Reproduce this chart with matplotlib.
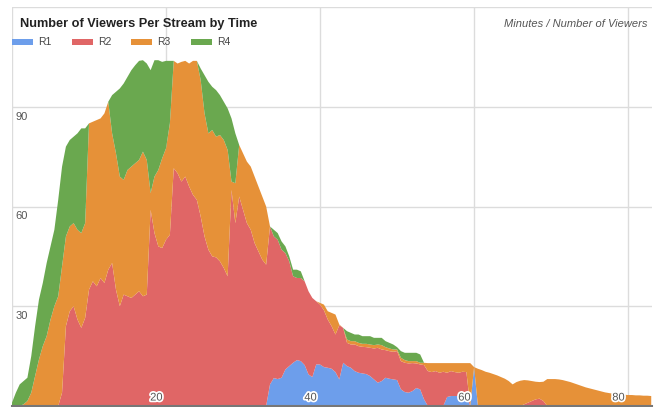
import matplotlib
matplotlib.use('Agg')
import matplotlib.pyplot as plt
import matplotlib.patheffects as pe
from matplotlib.patches import Rectangle
import numpy as np

plt.rcParams['font.family'] = ['Liberation Sans', 'DejaVu Sans']

# half-minute samples, 0 .. 83 min
minutes = np.arange(0, 83.5, 0.5)
series_names = ['R1', 'R2', 'R3', 'R4']
colors = ['#6d9eeb', '#e06666', '#e69138', '#6aa84f']
x_ticks = [20, 40, 60, 80]
y_ticks = [30, 60, 90]

# viewers per stream (one row = 5 minutes)
r1 = ([0] * 60 +
      [0, 0, 0, 0, 0, 0, 0, 6.5, 8.4, 8.1] +
      [8.5, 11, 12, 13, 13.8, 13.5, 12.3, 9.5, 8.7, 12.5] +
      [12.5, 11.7, 11.5, 11.2, 10.2, 8, 13, 12, 11.5, 10.5] +
      [10, 9.8, 9.6, 9, 8, 7, 7.5, 8.5, 8.2, 8] +
      [7.8, 5, 4.2, 4, 4.5, 5.4, 5, 2, 0, 0] +
      [0, 0, 0, 2.7, 3, 3, 3, 3, 3, 0] +
      [11.7] + [0] * 46)

r2 = ([0] * 10 +
      [0, 0, 0, 4, 24, 28.5, 30, 26, 23.5, 26.5] +
      [35, 37.5, 36, 38.5, 37, 41, 43, 35, 30, 33.5] +
      [33, 32.5, 33.5, 34.5, 33, 33.5, 59, 52, 48, 47.5] +
      [50, 51.5, 71.5, 70, 67.5, 69, 66, 63.5, 62, 57] +
      [51, 47, 45, 44.7, 43.5, 41.5, 39, 65, 55, 63] +
      [59, 55, 53, 49, 46.5, 44, 42.5, 47.5, 42.6, 41.9] +
      [38.5, 35, 31.5, 26, 24.7, 25, 25.2, 25, 23.8, 19] +
      [18, 17.1, 14.5, 12.8, 11.3, 16.3, 10.5, 7, 7, 8] +
      [8, 8, 8.1, 8.5, 9.3, 10.5, 9.5, 8.3, 8.3, 8.3] +
      [8.7, 8.5, 8.8, 8.8, 8.4, 7.4, 7.5, 10.3, 10.5, 10.2] +
      [10.5, 10, 10.3, 7.3, 7.5, 7.2, 7, 7.3, 7.2, 0] +
      [0] * 10 +
      [0, 0, 0, 0.5, 1.0, 1.5, 2.0, 2.2, 1.5, 0] +
      [0] * 27)

r3 = ([0, 0, 0, 0.5, 1.5, 4, 9, 14, 18, 21] +
      [26, 30, 33, 38, 27, 25.5, 25, 27, 28.5, 28.5] +
      [50, 48, 50, 48, 51, 50.5, 39, 41, 39, 34.5] +
      [38, 39.5, 39.5, 39.5, 43.5, 40.5, 5, 17, 23, 27] +
      [27.5, 33.5, 32.3, 33, 36, 34.8, 37, 40.3, 41.8, 41] +
      [37, 35, 38, 36.3, 38, 38.5, 38, 2.5, 12, 15.5] +
      [17, 18.5, 19, 20, 19.5, 19, 17.5, 0, 0, 0] +
      [0] * 10 +
      [0.5, 1.7, 2.5, 4, 6, 0.2, 0, 1, 1, 1] +
      [1, 0.9, 1, 1, 1, 1, 1.3, 0.9, 0.8, 0.7] +
      [0.5, 1, 0.8, 0.7, 0.6, 0.7, 0.5, 0.7, 2.4, 2.7] +
      [2.4, 2.9, 2.6, 2.9, 2.4, 2.7, 2.9, 2.6, 2.7, 12.9] +
      [0, 11.2, 10.8, 10.3, 10.0, 9.6, 9.2, 8.7, 8.2, 7.5] +
      [6.5, 7.2, 7.6, 7.3, 6.7, 6.0, 5.3, 5.0, 5.8, 8.1] +
      [8.1, 8.1, 8.0, 7.8, 7.5, 7.2, 6.8, 6.4, 6.0, 5.6] +
      [5.3, 5.0, 4.7, 4.4, 4.1, 3.9, 3.7, 3.6, 3.5, 3.4] +
      [3.3, 3.3, 3.2, 3.2, 3.1, 3.1, 3.0])

r4 = ([1, 4, 6.5, 7, 7, 11, 15, 18, 19, 22] +
      [22, 23, 29, 30, 27, 26, 26, 29, 31.5, 28.5] +
      [0, 0, 0, 0, 0, 0, 11.5, 18.5, 26.5, 29] +
      [28, 29, 29.5, 29.8, 27.5, 29, 37, 35, 33, 29] +
      [26.3, 18.8, 0, 0, 0, 0, 0, 0, 0, 3.5] +
      [11.5, 15.5, 13, 14, 12, 11.5, 12.5, 19, 15, 0] +
      [0, 0, 0, 0, 0, 0, 0, 0, 2, 2] +
      [2.5, 2, 1.5, 2, 2.5, 2, 0, 0, 0, 0] +
      [0, 0, 0, 0, 0, 0, 0, 2.5, 2.5, 2] +
      [2.5, 2.3, 2.3, 2.5, 2.2, 2, 2.2, 1.8, 1.7, 1.5] +
      [0.7, 2, 2.2, 2.5, 2.5, 2.5, 2.5, 0, 0, 0] +
      [0] * 57)

W, H = 654, 407
fig = plt.figure(figsize=(W / 100, H / 100), dpi=100)
ax = fig.add_axes([12 / W, 1 / H, 640 / W, 399 / H])

ax.stackplot(minutes, r1, r2, r3, r4, colors=colors, linewidth=0, antialiased=True)
ax.set_xlim(0, 83.1)
ax.set_ylim(0, 120)
ax.set_xticks([0] + x_ticks)
ax.set_yticks([0] + y_ticks + [120])
ax.grid(True, color='#dcdcdc', linewidth=1)
ax.set_axisbelow(True)
ax.tick_params(length=0, labelbottom=False, labelleft=False)
for s in ['top', 'right', 'left']:
    ax.spines[s].set_visible(False)
ax.spines['bottom'].set_color('#777777')
ax.spines['bottom'].set_linewidth(1.5)

for v in y_ticks:
    ax.annotate(str(v), xy=(0, v), xytext=(2.5, -3.5), textcoords='offset points',
                ha='left', va='top', fontsize=8, color='#555555')

halo = [pe.withStroke(linewidth=2.5, foreground='white')]
for v in x_ticks:
    ax.annotate(str(v), xy=(v, 0), xytext=(-2.5, 2.5), textcoords='offset points',
                ha='right', va='bottom', fontsize=8, color='#555555', path_effects=halo)

# title and axis note
fig.text(20 / W, 1 - 26.7 / H, 'Number of Viewers Per Stream by Time',
         fontsize=9.2, fontweight='bold', color='#222222', va='baseline')
fig.text(647 / W, 1 - 26.7 / H, 'Minutes / Number of Viewers',
         fontsize=8, style='italic', color='#555555', ha='right', va='baseline')

# legend row
for i, (name, c) in enumerate(zip(series_names, colors)):
    x0 = 12 + 59.7 * i
    fig.add_artist(Rectangle((x0 / W, 1 - 44.5 / H), 21 / W, 5 / H,
                             transform=fig.transFigure, color=c, lw=0))
    fig.text((x0 + 26) / W, 1 - 45 / H, name, fontsize=7.5, color='#444444', va='baseline')

fig.savefig('out.png', dpi=100)
